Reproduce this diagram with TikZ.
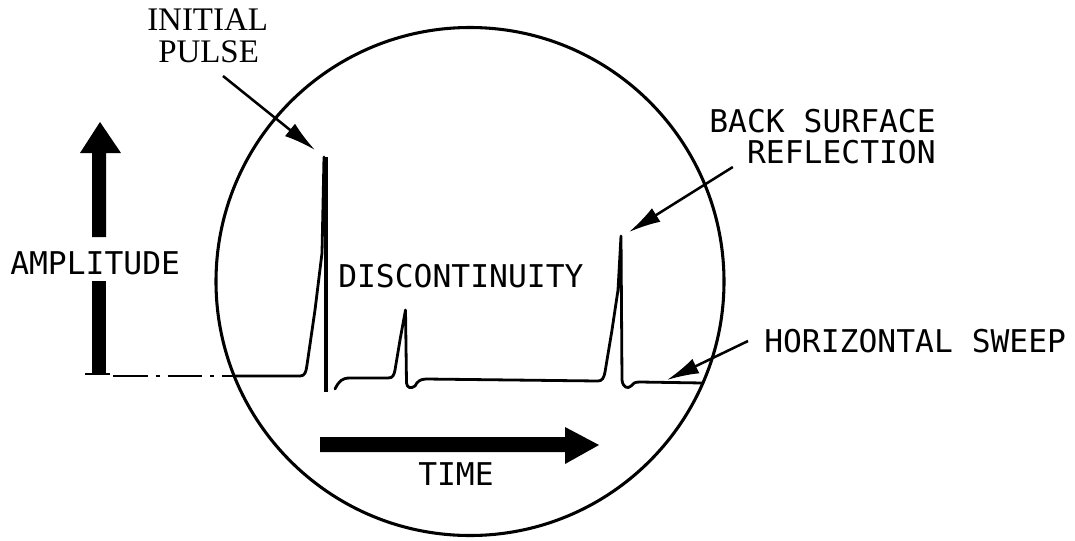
\documentclass[tikz,border=0pt]{standalone}
\usepackage{fontspec}
\setmainfont{Liberation Serif}
\newfontfamily\monofnt{DejaVu Sans Mono}
\usetikzlibrary{arrows.meta,calc}
\begin{document}
\begin{tikzpicture}[x=0.75pt,y=-0.75pt,
  mono/.style={font=\monofnt\fontsize{23.5}{28}\selectfont, inner sep=0pt},
  serif/.style={font=\fontsize{24.7}{30}\selectfont, inner sep=0pt},
  trace/.style={line width=2.1pt, line join=round, line cap=round},
  leader/.style={line width=1.9pt, -{Latex[length=24pt,width=12pt]}},
  bigarrow/.style={fill=black, draw=none}]
\useasboundingbox (0,0) rectangle (1075,540);

% screen
\draw[line width=2.3pt] (470,281.5) circle [radius=190.5pt];

% labels
\node[serif, anchor=base west] (ip1) at (147,30) {INITIAL};
\node[serif, anchor=base west] (ip2) at (158,62) {PULSE};
\node[mono, anchor=base west] (amp) at (10,274) {AMPLITUDE};
\node[mono, anchor=base west] (disc) at (338,287) {DISCONTINUITY};
\node[mono, anchor=base east] (bs1) at (936,132) {BACK SURFACE};
\node[mono, anchor=base east] (bs2) at (936,163) {REFLECTION};
\node[mono, anchor=base west] (hs) at (764,352) {HORIZONTAL SWEEP};
\node[mono, anchor=base west] (time) at (418,485) {TIME};

% amplitude arrow
\fill[bigarrow] (92,374) rectangle (106,281);
\fill[bigarrow] (92,237) -- (92,153) -- (80,153) -- (100,122) -- (121,153) -- (106,153) -- (106,237) -- cycle;
\draw[line width=1.2pt] (85,374) -- (110,374);
\draw[line width=1.2pt, dash pattern=on 26pt off 6pt on 3pt off 6pt] (113,376) -- (234,376);

% time arrow
\fill[bigarrow] (320,437) -- (565,437) -- (565,427) -- (599,445) -- (565,464) -- (565,452) -- (320,452) -- cycle;

% trace
\draw[trace] (234,376) -- (300,376) .. controls (305,376) and (306,372) .. (307,365)
  -- (315,310) -- (322,253) -- (324,157);
\draw[line width=2.6pt] (326,157) -- (326,392);
\draw[trace] (335,389) .. controls (339,381) and (342,378) .. (350,378) -- (388,378)
  .. controls (393,378) and (394,375) .. (395,370) -- (400,340) -- (405.5,310)
  -- (406.5,383) .. controls (407,388) and (411,389) .. (415,386)
  .. controls (417,382) and (420,379) .. (426,379) -- (598,381)
  .. controls (602,381) and (604,378) .. (605,372) -- (612,330) -- (618,290) -- (621,236)
  -- (622,380) .. controls (623,388) and (628,389) .. (631,386)
  .. controls (633,383) and (635,382) .. (640,382) -- (703,383);

% leaders
\coordinate (ipT) at (315,150);
\coordinate (bsT) at (629,232);
\coordinate (hsT) at (667,380);
\draw[leader] ($(ip2.base west)+(65,14)$) -- (ipT);
\draw[leader] ($(bs2.base west)+(-14,4)$) -- (bsT);
\draw[leader] ($(hs.base west)+(-16,-11)$) -- (hsT);
\end{tikzpicture}
\end{document}
